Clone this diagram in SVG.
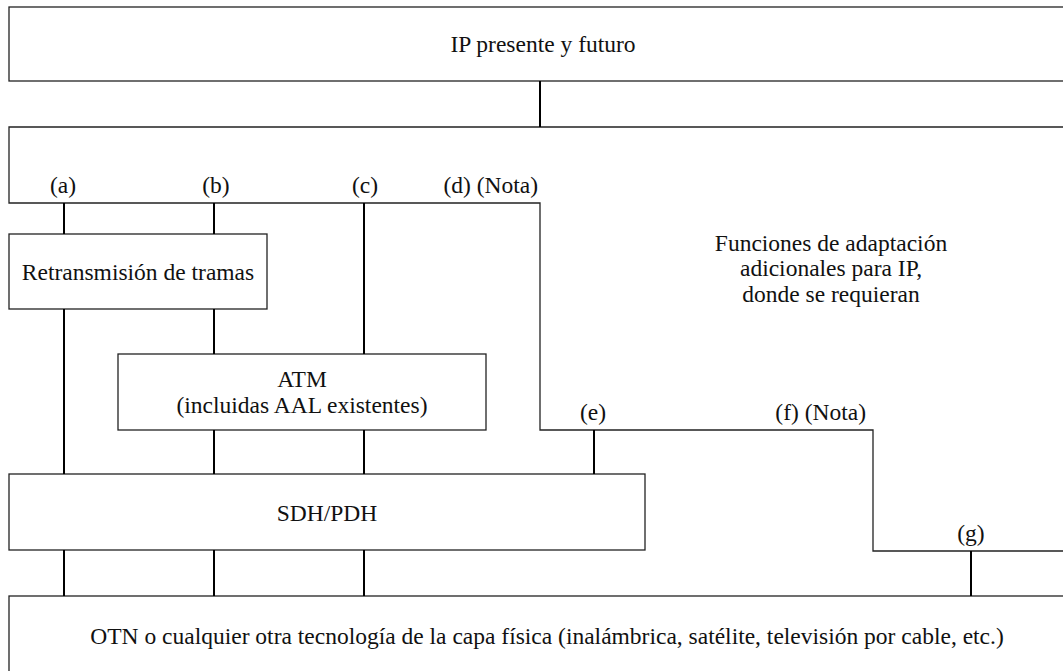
<svg xmlns="http://www.w3.org/2000/svg" width="1063" height="671" viewBox="0 0 1063 671">
<style>
.box{fill:#fff;stroke:#222;stroke-width:1.3}
.edge{fill:none;stroke:#222;stroke-width:1.3}
.conn{fill:none;stroke:#000;stroke-width:2}
text{font-family:"Liberation Serif","Times New Roman",Times,serif;font-size:23.5px;fill:#111}
.c{text-anchor:middle}
.e{text-anchor:end}
</style>
<rect width="1063" height="671" fill="#fff"/>
<g id="ip">
<rect class="box" x="9" y="7" width="1100" height="74"/>
<text class="c" x="543" y="52">IP presente y futuro</text>
</g>
<g id="adaptacion">
<polyline class="edge" points="1070,127 9,127 9,203 540,203 540,430 873,430 873,551 1070,551"/>
<text x="63" y="193" class="c">(a)</text>
<text x="216" y="193" class="c">(b)</text>
<text x="365" y="193" class="c">(c)</text>
<text x="538" y="193" class="e">(d) (Nota)</text>
<text x="593" y="420" class="c">(e)</text>
<text x="866" y="420" class="e">(f) (Nota)</text>
<text x="971" y="541" class="c">(g)</text>
<text class="c" x="831" y="251">Funciones de adaptación</text>
<text class="c" x="831" y="276">adicionales para IP,</text>
<text class="c" x="831" y="302">donde se requieran</text>
</g>
<g id="retransmision">
<rect class="box" x="9" y="234" width="258" height="75"/>
<text class="c" x="138" y="280">Retransmisión de tramas</text>
</g>
<g id="atm">
<rect class="box" x="118" y="354" width="368" height="76"/>
<text class="c" x="302" y="387">ATM</text>
<text class="c" x="302" y="413">(incluidas AAL existentes)</text>
</g>
<g id="sdh">
<rect class="box" x="9" y="474" width="636" height="76"/>
<text class="c" x="327" y="521">SDH/PDH</text>
</g>
<g id="otn">
<rect class="box" x="9" y="596" width="1100" height="100"/>
<text class="c" x="547" y="644">OTN o cualquier otra tecnología de la capa física (inalámbrica, satélite, televisión por cable, etc.)</text>
</g>
<g id="connectors">
<line class="conn" x1="540" y1="81" x2="540" y2="127"/>
<line class="conn" x1="64" y1="203" x2="64" y2="234"/>
<line class="conn" x1="214" y1="203" x2="214" y2="234"/>
<line class="conn" x1="364" y1="203" x2="364" y2="354"/>
<line class="conn" x1="64" y1="309" x2="64" y2="474"/>
<line class="conn" x1="214" y1="309" x2="214" y2="354"/>
<line class="conn" x1="214" y1="430" x2="214" y2="474"/>
<line class="conn" x1="364" y1="430" x2="364" y2="474"/>
<line class="conn" x1="594" y1="430" x2="594" y2="474"/>
<line class="conn" x1="64" y1="550" x2="64" y2="596"/>
<line class="conn" x1="214" y1="550" x2="214" y2="596"/>
<line class="conn" x1="364" y1="550" x2="364" y2="596"/>
<line class="conn" x1="971" y1="551" x2="971" y2="596"/>
</g>
</svg>
